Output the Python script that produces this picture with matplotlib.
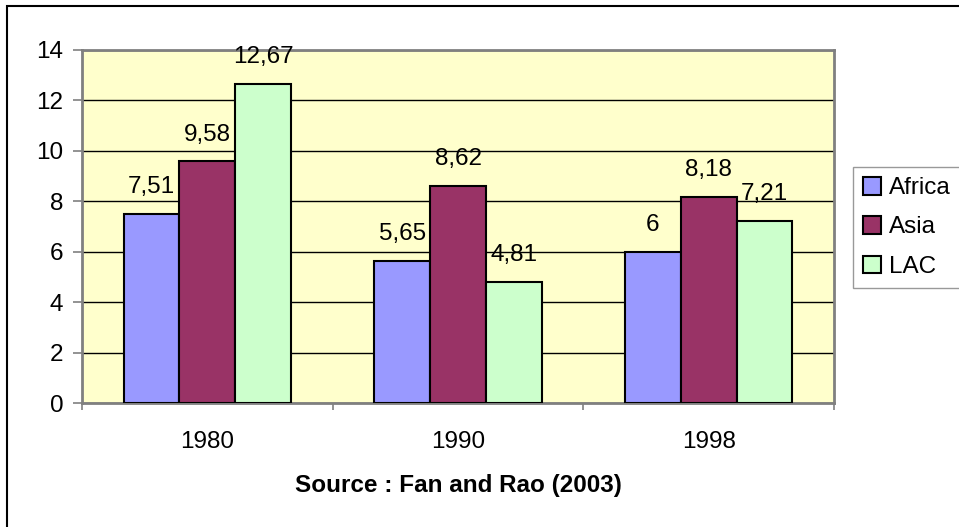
import matplotlib.pyplot as plt
import numpy as np
from matplotlib.patches import Rectangle

years = ["1980", "1990", "1998"]
regions = ["Africa", "Asia", "LAC"]
africa = [7.51, 5.65, 6]
asia = [9.58, 8.62, 8.18]
lac = [12.67, 4.81, 7.21]
labels = {
    "Africa": ["7,51", "5,65", "6"],
    "Asia": ["9,58", "8,62", "8,18"],
    "LAC": ["12,67", "4,81", "7,21"],
}
colors = {"Africa": "#9999FF", "Asia": "#993366", "LAC": "#CCFFCC"}

plt.rcParams["font.family"] = ["Liberation Sans", "DejaVu Sans"]
FS = 17.5

W, H = 959, 527
fig = plt.figure(figsize=(W / 100, H / 100), dpi=100)
ax = fig.add_axes([82 / W, 1 - 403 / H, (834 - 82) / W, (403 - 50) / H])

# outer chart border (only top and left visible in the reference)
fig.patches.append(Rectangle((7 / W, -0.1), 1.2, 1 - 6 / H + 0.1,
                             transform=fig.transFigure, fill=False,
                             edgecolor="black", linewidth=1.5))

ax.set_facecolor("#FFFFCC")
x = np.arange(len(years))
width = 1 / 4.5
series = {"Africa": africa, "Asia": asia, "LAC": lac}
for i, name in enumerate(regions):
    pos = x + (i - 1) * width
    ax.bar(pos, series[name], width, color=colors[name], edgecolor="black",
           linewidth=1.5, label=name, zorder=3)
    for p, v, t in zip(pos, series[name], labels[name]):
        ax.annotate(t, (p, v), xytext=(0, 15), textcoords="offset points",
                    ha="center", va="baseline", fontsize=FS, zorder=4)

ax.set_xlim(-0.5, 2.5)
ax.set_ylim(0, 14)
ax.set_yticks(range(0, 15, 2))
ax.set_xticks([-0.5, 0.5, 1.5, 2.5])
ax.set_xticklabels([])
ax.set_xticks(x, minor=True)
ax.set_xticklabels(years, minor=True, fontsize=FS)
ax.tick_params(axis="x", which="minor", length=0, pad=20)
ax.tick_params(axis="x", which="major", length=5, width=1.2, color="#808080", direction="out")
ax.tick_params(axis="y", length=6.5, width=1.2, color="#808080", labelsize=FS, pad=7)
ax.yaxis.grid(True, color="black", linewidth=1)
ax.set_axisbelow(True)
for s in ax.spines.values():
    s.set_color("#808080")
    s.set_linewidth(2)

ax.set_xlabel("Source : Fan and Rao (2003)", fontsize=FS, fontweight="bold", labelpad=15)

leg = ax.legend(loc="upper left", bbox_to_anchor=(853 / W, 1 - 167 / H),
                bbox_transform=fig.transFigure, fontsize=FS, frameon=True,
                fancybox=False, handlelength=0.75, handleheight=0.75,
                handletextpad=0.33, borderpad=0.4, labelspacing=0.7,
                borderaxespad=0)
leg.get_frame().set_edgecolor("#808080")
leg.get_frame().set_linewidth(1)
for h in leg.legend_handles:
    h.set_linewidth(1.5)

fig.savefig("out.png", dpi=100)
